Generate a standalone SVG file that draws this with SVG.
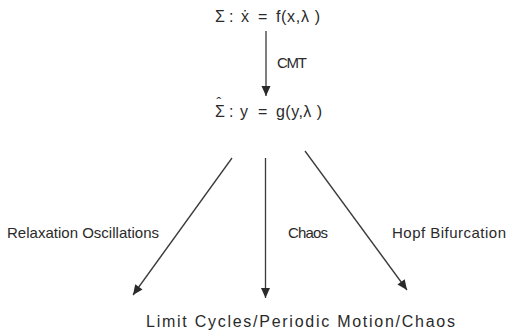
<svg xmlns="http://www.w3.org/2000/svg" width="507" height="335" viewBox="0 0 507 335">
<style>
text{font-family:"Liberation Sans","DejaVu Sans",Arial,sans-serif;fill:#2a2a2a;font-size:15px}
.eq{font-size:16px}
.conn line{stroke:#3a3a3a;stroke-width:1.3;fill:none}
</style>
<defs>
<marker id="ah" markerUnits="userSpaceOnUse" markerWidth="12" markerHeight="12" viewBox="0 0 12 12" refX="11" refY="6" orient="auto">
<path d="M1,1.5 L11,6 L1,10.5 Z" fill="#2a2a2a"/>
</marker>
</defs>
<rect width="507" height="335" fill="#ffffff"/>
<g id="node-sigma">
<text class="eq" x="215" y="22">Σ</text>
<text class="eq" x="229" y="22">:</text>
<text class="eq" x="241" y="22">ẋ</text>
<text class="eq" x="258" y="22">=</text>
<text class="eq" x="276" y="22" textLength="44" lengthAdjust="spacing">f(x,λ )</text>
</g>
<g id="node-sigmahat">
<text class="eq" x="215" y="117">Σ<tspan x="216.5" y="108" style="font-size:14px">ˆ</tspan></text>
<text class="eq" x="229" y="117">:</text>
<text class="eq" x="240" y="117">y</text>
<text class="eq" x="258" y="117">=</text>
<text class="eq" x="276" y="117" textLength="46" lengthAdjust="spacing">g(y,λ )</text>
</g>
<g id="node-result">
<text x="146" y="327" style="font-size:16px" textLength="309" lengthAdjust="spacing">Limit Cycles/Periodic Motion/Chaos</text>
</g>
<g class="conn" id="connectors">
<line x1="266" y1="31" x2="266" y2="96" marker-end="url(#ah)"/>
<line x1="232" y1="158" x2="133" y2="295" marker-end="url(#ah)"/>
<line x1="265.5" y1="158" x2="265.5" y2="298" marker-end="url(#ah)"/>
<line x1="305" y1="151" x2="407" y2="290" marker-end="url(#ah)"/>
</g>
<g id="labels">
<text x="277" y="68" textLength="30" lengthAdjust="spacing">CMT</text>
<text x="7" y="238" textLength="152" lengthAdjust="spacing">Relaxation Oscillations</text>
<text x="288" y="238" textLength="40" lengthAdjust="spacing">Chaos</text>
<text x="392" y="238" textLength="114" lengthAdjust="spacing">Hopf Bifurcation</text>
</g>
</svg>
